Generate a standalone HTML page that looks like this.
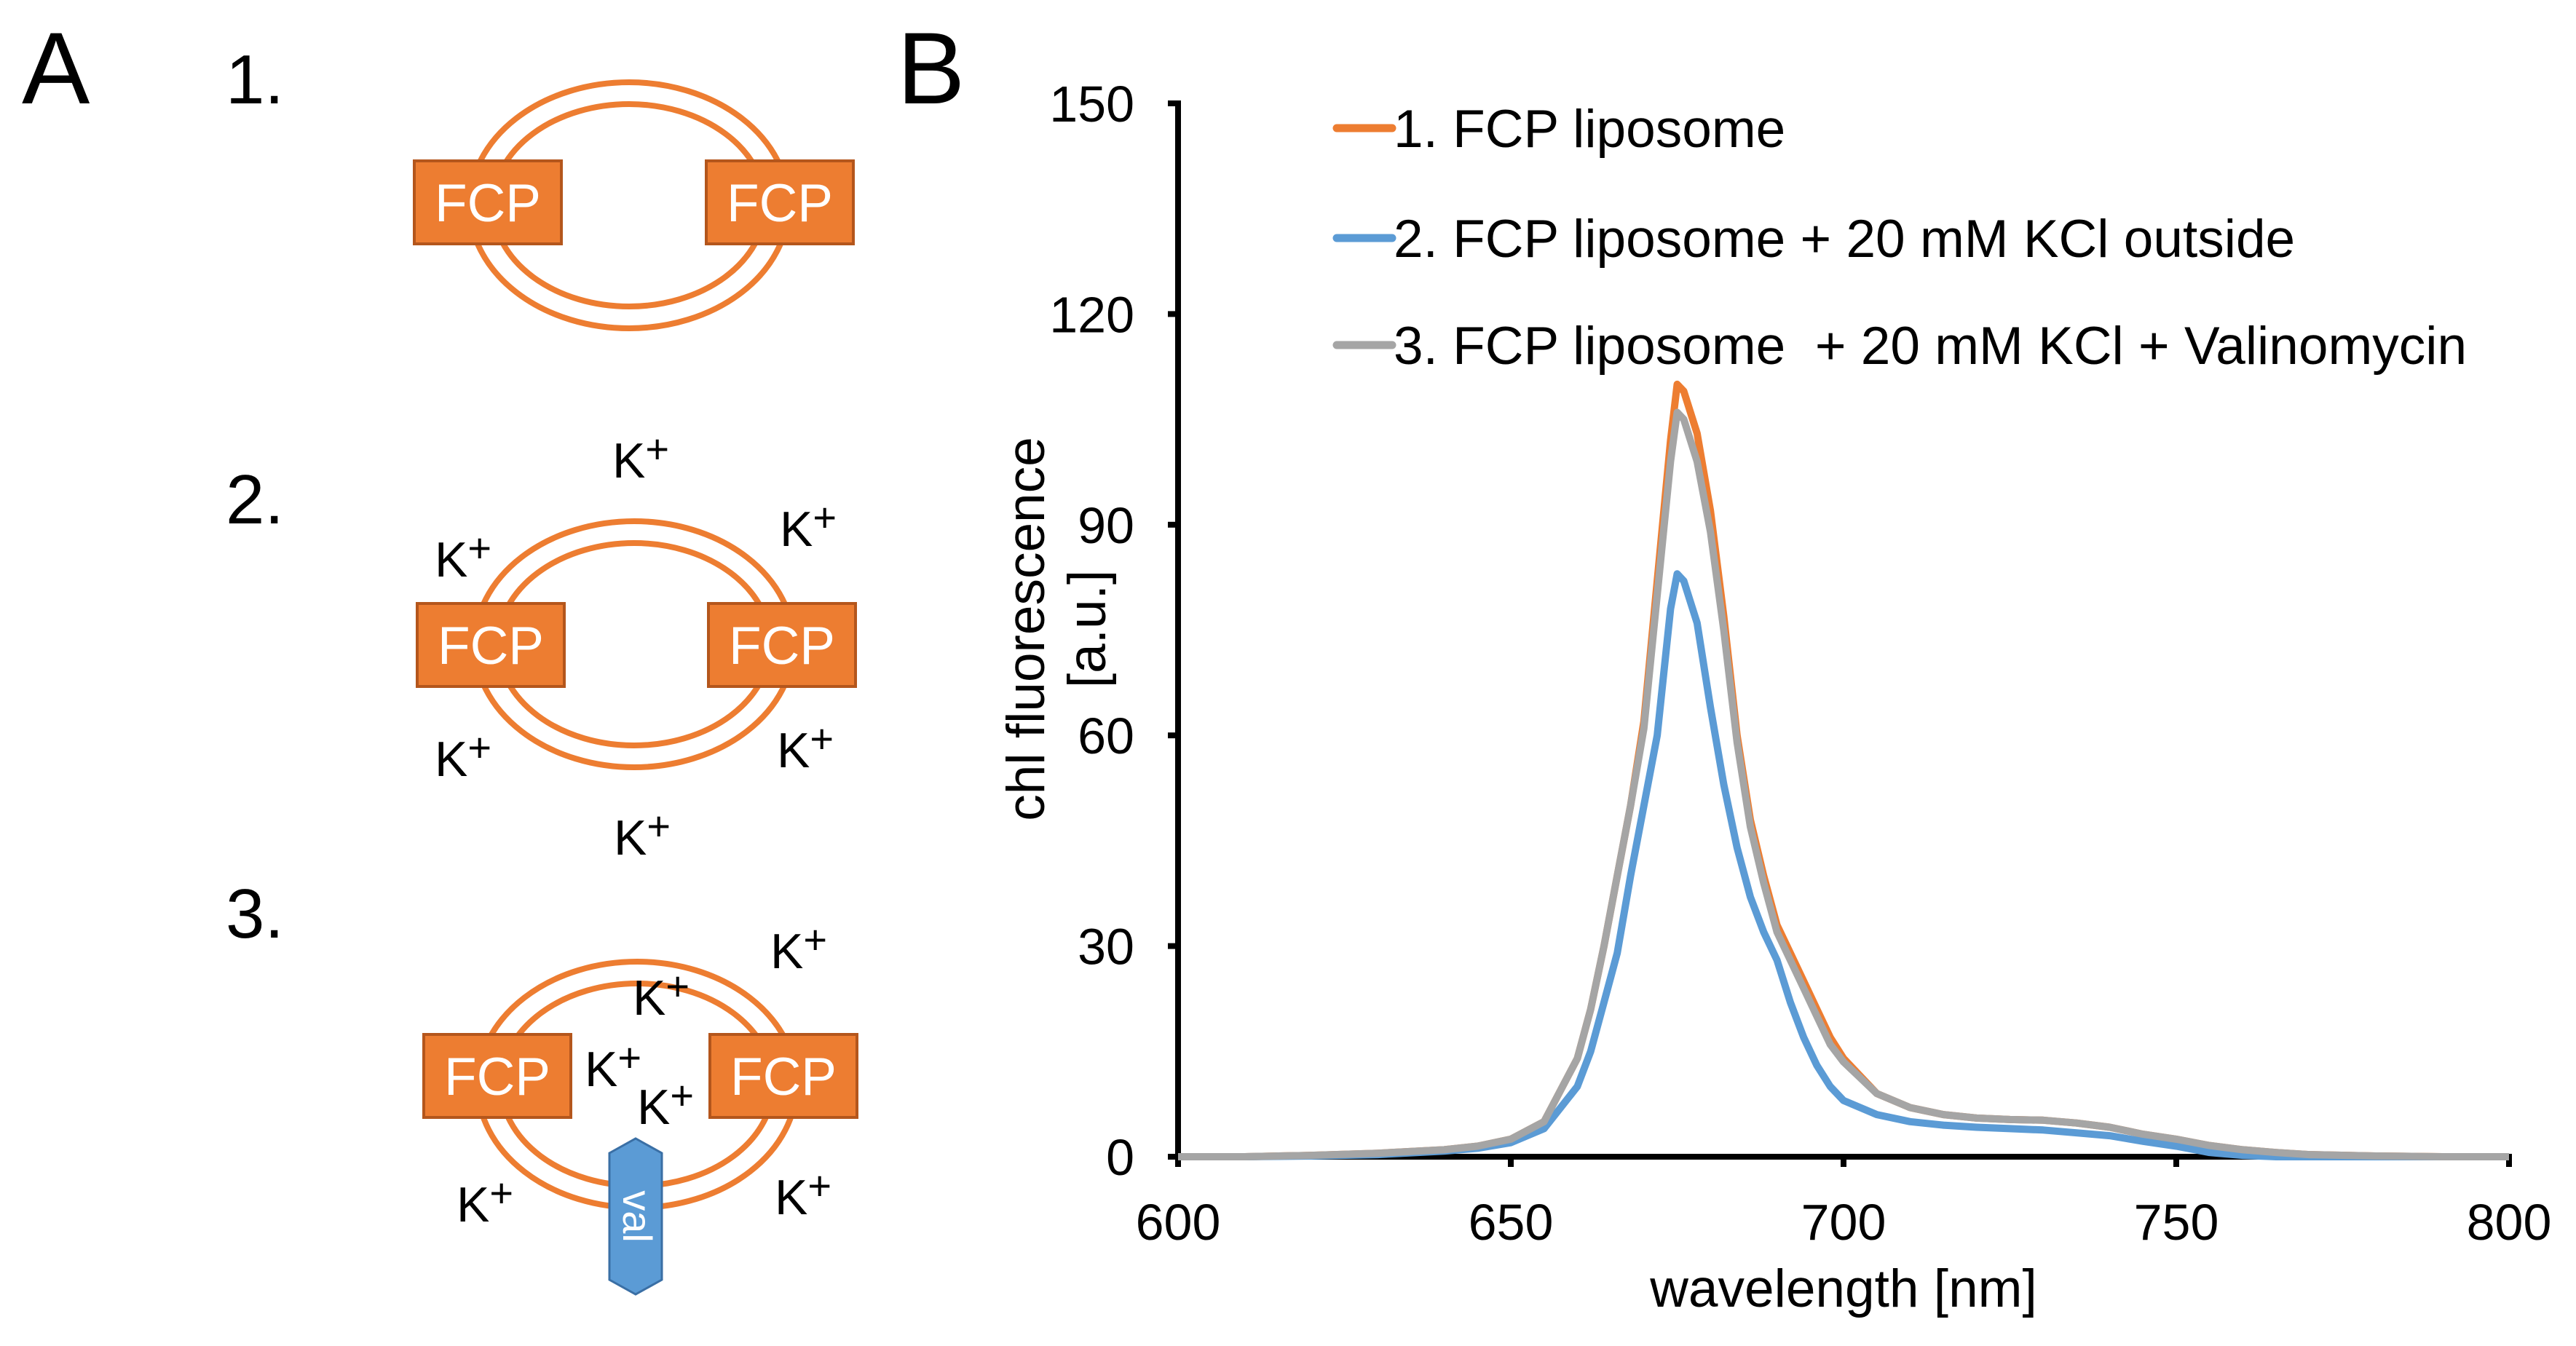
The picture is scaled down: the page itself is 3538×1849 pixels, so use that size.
<!DOCTYPE html>
<html><head><meta charset="utf-8">
<style>
html,body{margin:0;padding:0;background:#fff;}
svg{display:block;font-family:"Liberation Sans",Arial,sans-serif;}
text{white-space:pre;}
</style></head>
<body>
<svg id="fig" width="3538" height="1849" viewBox="0 0 3538 1849" xmlns="http://www.w3.org/2000/svg">
  <text x="30" y="142" font-size="140">A</text>
  <text x="1232" y="142" font-size="140">B</text>

  <g id="panelA">
    <text x="310" y="142" font-size="96">1.</text>
    <text x="310" y="719" font-size="96">2.</text>
    <text x="310" y="1288" font-size="96">3.</text>
  </g>

  <g id="chart"></g>
</svg>
<script>
var wavelengths=[600,610,620,630,640,645,650,655,660,662,664,666,668,670,672,674,675,676,678,680,682,684,686,688,690,692,694,696,698,700,705,710,715,720,725,730,735,740,745,750,755,760,765,770,780,790,800];
var fcpLiposome=[0,0,0.2,0.5,1,1.5,2.5,5,14,21,30,40,50,62,82,102,110,109,103,92,77,60,48,40,33,29,25,21,17,14,9,7,6,5.5,5.3,5.2,4.8,4.2,3.2,2.5,1.6,1,0.6,0.3,0.1,0,0];
var fcpKcl=[0,0,0.1,0.3,0.8,1.2,2,4,10,15,22,29,40,50,60,78,83,82,76,64,53,44,37,32,28,22,17,13,10,8,6,5,4.5,4.2,4,3.8,3.4,3,2.2,1.5,0.6,0.2,0,0,0,0,0];
var fcpValinomycin=[0,0,0.2,0.5,1,1.5,2.5,5,14,21,30,40,50,61,80,99,106,105,99,89,75,59,47,39,32,28,24,20,16,13.5,9,7,6,5.5,5.3,5.2,4.8,4.2,3.2,2.5,1.6,1,0.6,0.3,0.1,0,0];
var xTicks=[600,650,700,750,800];
var yTicks=[0,30,60,90,120,150];
var seriesNames=["1. FCP liposome","2. FCP liposome + 20 mM KCl outside","3. FCP liposome  + 20 mM KCl + Valinomycin"];

var NS="http://www.w3.org/2000/svg";
var X0=1618,X1=3446,Y0=1589,Y1=142;
function sx(v){return X0+(v-600)/200*(X1-X0);}
function sy(v){return Y0-(v-0)/150*(Y0-Y1);}
function mk(tag,attrs,parent,txt){var e=document.createElementNS(NS,tag);for(var k in attrs)e.setAttribute(k,attrs[k]);if(txt!==undefined)e.textContent=txt;parent.appendChild(e);return e;}
var g=document.getElementById('chart');

var ya=mk('line',{x1:X0,y1:Y1-4,x2:X0,y2:Y0+4,stroke:'#000','stroke-width':8},g);


var xa=mk('line',{x1:X0-4,y1:Y0,x2:X1+4,y2:Y0,stroke:'#000','stroke-width':8},g);


yTicks.forEach(function(t){
  var y=sy(t);
  var tk=mk('line',{x1:X0-14,y1:y,x2:X0,y2:y,stroke:'#000','stroke-width':8},g);
  
  
  var tl=mk('text',{x:1558,y:y+25,'font-size':70,'text-anchor':'end'},g,String(t));
  
  
});
xTicks.forEach(function(t){
  var x=sx(t);
  var tk=mk('line',{x1:x,y1:Y0,x2:x,y2:Y0+14,stroke:'#000','stroke-width':8},g);
  
  
  var tl=mk('text',{x:x,y:1703,'font-size':70,'text-anchor':'middle'},g,String(t));
  
  
});
var xt=mk('text',{x:2532,y:1795,'font-size':73,'text-anchor':'middle'},g,'wavelength [nm]');


var yt=mk('text',{transform:'translate(1434,864) rotate(-90)','font-size':73,'text-anchor':'middle'},g,'chl fluorescence');


var yt2=mk('text',{transform:'translate(1518,864) rotate(-90)','font-size':73,'text-anchor':'middle'},g,'[a.u.]');



var series=[fcpLiposome,fcpKcl,fcpValinomycin];
var colors=['#ED7D31','#5B9BD5','#A5A5A5'];
[0,1,2].forEach(function(i){
  var d=wavelengths.map(function(w,j){return (j?'L':'M')+sx(w).toFixed(1)+','+sy(series[i][j]).toFixed(1);}).join(' ');
  var p=mk('path',{d:d,fill:'none',stroke:colors[i],'stroke-width':10,'stroke-linejoin':'round'},g);
  
  
});
var legY=[176,327,474];
seriesNames.forEach(function(n,i){
  var l=mk('line',{x1:1836,y1:legY[i],x2:1912,y2:legY[i],stroke:colors[i],'stroke-width':11,'stroke-linecap':'round'},g);
  
  
  var t=mk('text',{x:1914,y:legY[i]+26,'font-size':73},g,n);
  
  
});

var A=document.getElementById('panelA');
var OR='#ED7D31';
function ring(cx,cy,parent,name){
  var o=mk('ellipse',{cx:cx,cy:cy,rx:219,ry:169,fill:'none',stroke:OR,'stroke-width':8},parent);
  
  
  var n=mk('ellipse',{cx:cx,cy:cy,rx:187,ry:139,fill:'none',stroke:OR,'stroke-width':8},parent);
  
  
}
function box(x,y,parent){
  var r=mk('rect',{x:x,y:y,width:202,height:114,fill:OR,stroke:'#B4561C','stroke-width':4},parent);
  
  
  var t=mk('text',{x:x+101,y:y+83,'font-size':73,fill:'#fff','text-anchor':'middle'},parent,'FCP');
  
  
}
function kplus(x,y,parent){
  var t=mk('text',{x:x,y:y,'font-size':68,'text-anchor':'middle'},parent);
  
  
  t.appendChild(document.createTextNode('K'));
  var s=document.createElementNS(NS,'tspan');s.setAttribute('font-size',56);s.setAttribute('dy',-20);s.textContent='+';t.appendChild(s);
}
ring(864,282,A,'diagram-1');
box(569,221,A);box(970,221,A);
ring(871,885,A,'diagram-2');
box(573,829,A);box(973,829,A);
[[880,656],[1110,750],[636,792],[636,1066],[1106,1054],[882,1174]].forEach(function(p){kplus(p[0],p[1],A);});
ring(875,1490,A,'diagram-3');
box(582,1421,A);box(975,1421,A);
[[1097,1330],[908,1394],[842,1492],[914,1544],[666,1678],[1103,1668]].forEach(function(p){kplus(p[0],p[1],A);});
var hex=mk('polygon',{points:'837,1584 873,1564 909,1584 909,1758 873,1778 837,1758',fill:'#5B9BD5',stroke:'#3A6FA5','stroke-width':3},A);


var vt=mk('text',{transform:'translate(856,1671) rotate(90)','font-size':56,fill:'#fff','text-anchor':'middle'},A,'val');


</script>
</body></html>
